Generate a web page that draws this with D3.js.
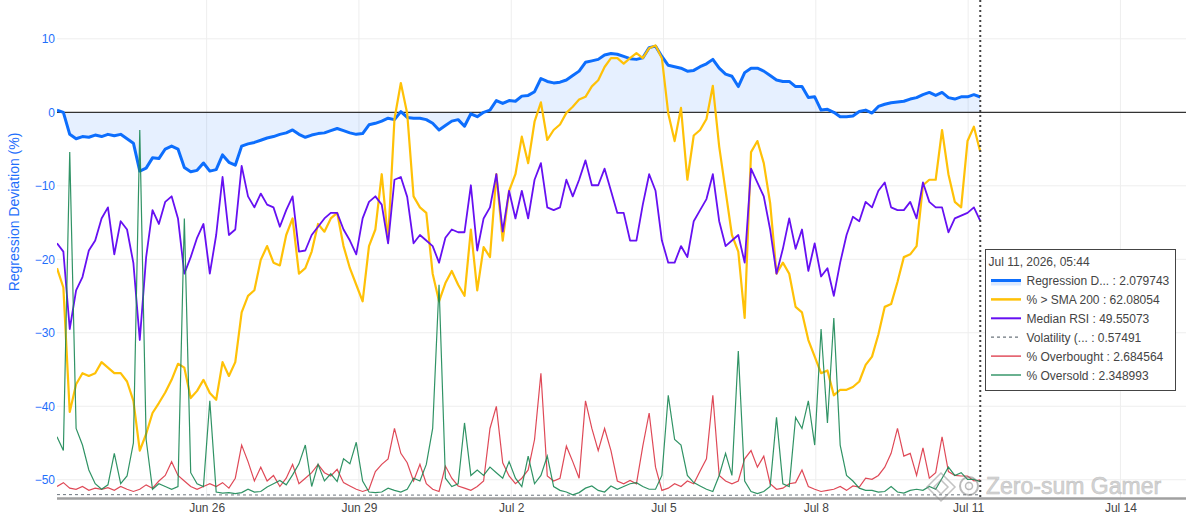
<!DOCTYPE html>
<html>
<head>
<meta charset="utf-8">
<script src="https://cdn.jsdelivr.net/npm/d3@7"></script>
<style>
  body { margin: 0; background: #fff; }
  svg { display: block; font-family: Arial, "Liberation Sans", sans-serif; }
</style>
</head>
<body>
<div id="chart"></div>
<script>
// values sampled every ~3h from Jun 23 01:15 to Jul 11 05:44 (2026)
const regression = [
  0.3, 0.0, -3.0, -3.6, -3.3, -3.4, -3.1, -3.3, -3.0, -3.2,
  -3.0, -3.6, -4.2, -8.0, -7.6, -6.2, -6.3, -5.0, -4.6, -5.0,
  -7.5, -8.1, -7.9, -6.9, -8.0, -7.8, -5.8, -6.8, -7.2, -4.6,
  -4.3, -4.1, -3.8, -3.5, -3.3, -3.0, -2.8, -2.4, -3.0, -3.4,
  -3.1, -2.9, -2.8, -2.5, -2.2, -2.5, -2.8, -3.0, -2.9, -1.7,
  -1.5, -1.2, -0.8, -1.0, 0.1, -0.7, -0.8, -0.8, -1.0, -1.5,
  -2.4, -1.8, -1.2, -1.0, -1.9, -0.2, -0.6, 0.0, 0.3, 1.6,
  1.2, 1.6, 1.5, 2.2, 2.3, 2.8, 4.6, 4.2, 4.0, 4.1,
  4.4, 5.0, 5.6, 6.8, 7.0, 7.2, 7.8, 8.0, 7.9, 7.6,
  7.3, 7.2, 7.4, 8.8, 9.0, 7.6, 6.4, 6.2, 6.0, 5.6,
  5.7, 6.2, 6.6, 7.2, 6.0, 5.2, 4.9, 3.5, 5.4, 6.0,
  6.0, 5.6, 5.0, 4.4, 4.2, 4.2, 3.5, 3.5, 2.0, 2.1,
  0.3, 0.4, 0.0, -0.6, -0.6, -0.5, 0.1, 0.3, -0.1, 0.8,
  1.1, 1.3, 1.4, 1.5, 1.8, 2.0, 2.4, 2.7, 2.3, 2.7,
  2.0, 1.8, 2.1, 2.1, 2.4, 2.079743
];
const pctAboveSma = [
  41, 37.5, 15, 20, 22, 21.5, 22, 24, 23, 22,
  22, 20.5, 17, 8, 11, 14.8, 16.6, 18.5, 20.8, 23.7,
  23, 17.5, 18.8, 20.8, 18.4, 17.2, 24, 21.5, 24, 33,
  36, 37, 42.5, 45, 42, 41.5, 47, 50, 40, 41,
  44, 49, 47.6, 50, 51, 45, 41, 38, 35, 45,
  48, 58, 46, 68, 74.5, 69, 54, 52, 51, 40,
  35, 38.3, 40.5, 38, 36, 48, 37, 44.8, 43, 58,
  46, 55, 58, 64.8, 60, 67.5, 71, 64.2, 66, 67,
  69.1, 70.2, 71.5, 72, 73.9, 75, 77.4, 79, 79, 78,
  79, 79.9, 79, 80.8, 81.3, 79, 69, 64, 70, 57,
  65, 66, 68, 74, 63, 55, 47, 44, 32, 62,
  64, 60, 52.8, 40, 42, 40, 34, 33, 28, 25,
  22, 22.5, 18, 19, 19, 19.5, 20.5, 23.5, 25, 29,
  34, 34.5, 38.5, 43, 43.5, 45, 56, 57, 57, 66,
  58, 53, 52, 64, 66.6, 62.08054
];
const medianRsi = [
  45.5, 44, 30, 37, 39.4, 44.2, 46, 50, 52, 43.5,
  49.5, 48, 41.9, 28, 43, 51.5, 49, 53, 54, 50,
  40, 43, 46.5, 49, 40, 47, 57.5, 47, 48, 59.5,
  54, 52, 54.5, 52.5, 52, 48.5, 51.5, 54, 44, 44.2,
  47, 48.5, 50, 51, 51, 48, 46, 43.5, 50, 53,
  54, 52.5, 45.5, 57, 57.5, 53.9, 45.5, 47, 46, 45,
  42, 46.5, 48, 47.5, 47.5, 56, 44.2, 50, 52, 58,
  47.6, 55, 50, 55, 50, 57, 60, 52, 51.5, 52,
  57, 54, 57, 60.5, 56, 56, 59, 55, 51, 51,
  46, 46, 52.5, 58, 55, 46, 42, 42, 45, 43,
  49.5, 51.5, 53.5, 58, 49.5, 45, 46, 47, 42, 59,
  56.5, 54, 48, 40, 44.5, 50, 44.5, 48, 40.5, 45.5,
  39.5, 41, 36, 42, 47, 50.3, 49.5, 53, 52, 55,
  56.5, 52, 51.5, 51.5, 53, 50, 56.5, 53, 52, 52,
  47.5, 50, 50.5, 51, 52, 49.55073
];
const overbought = [
  1.5, 2.2, 1.2, 1, 1.5, 0.8, 1.2, 1, 1.3, 0.8,
  1.5, 1, 0.6, 1, 1.8, 1.2, 2.5, 3.5, 6, 3.5,
  2.5, 1.5, 1, 1.5, 2, 1.5, 2.2, 1.2, 3, 9,
  6, 2.5, 5, 2.5, 3.5, 1.5, 3, 5.5, 2, 3,
  4, 5.5, 4, 3.4, 4.6, 2.2, 1.6, 1, 0.6, 1,
  4.2, 5.5, 6.5, 12, 7.5, 5.8, 2.5, 5.5, 2, 1,
  0.6, 5.2, 3, 1.6, 1.2, 0.8, 1.5, 2.5, 12, 16,
  5.8, 3.4, 2, 3, 4.5, 10, 22, 3.4, 2.5, 3,
  8.8, 6, 3, 17, 12, 8, 12, 8, 2.5, 2,
  2.6, 2, 8.8, 14.8, 5, 0.8, 1.2, 2, 1.5, 2.5,
  2, 4.3, 6.5, 18, 3.5, 2.5, 2, 2.5, 6.5, 8,
  5, 7, 2, 1, 1.2, 2, 2.2, 4.5, 1.5, 1,
  0.6, 0.8, 1, 1.5, 0.8, 1.6, 1.4, 3, 2.8, 3.5,
  5, 7.5, 12, 7, 7.5, 3.5, 8.5, 3, 4, 10.5,
  4.2, 3.5, 3.4, 3.4, 2.5, 2.684564
];
const oversold = [
  10.5, 8, 62, 12, 9, 4.5, 2, 1, 1.8, 7.5,
  2, 3.4, 9.4, 66, 10, 1, 2, 1.5, 1, 1.5,
  50, 4, 2, 1.5, 17, 0.5, 0.3, 0.4, 0.2, 0.4,
  1, 0.5, 0.6, 1.4, 2, 2.6, 1.8, 3.6, 5.6, 9,
  1.5, 5.5, 2.5, 3.8, 2.4, 6.5, 5.6, 9.5, 2.5, 0.5,
  0.4, 0.5, 1.2, 0.8, 0.5, 1, 3, 2.5, 5.5, 12,
  38, 3, 1.5, 2, 13, 3.5, 4.5, 3.5, 5, 4,
  3, 6, 3, 1.5, 7, 2, 3.5, 7, 1.5, 0.8,
  0.5, 0, 0.4, 1.2, 1.6, 0.8, 0.5, 1.6, 1, 1.5,
  2, 2.2, 1.5, 1, 1, 3.5, 18, 10, 9, 3.5,
  2.2, 1.6, 1, 0.6, 3.5, 7.5, 3.5, 26, 2.5, 0.6,
  0.2, 0.6, 1.5, 14, 2, 1.5, 14, 12, 17, 9,
  30, 13, 32, 9, 3.5, 2.5, 1.2, 0.8, 0.8, 0.5,
  0.6, 1.5, 0.5, 0.3, 0.8, 1, 0.8, 1.5, 1, 3,
  5, 3.5, 4, 2.8, 2.8, 2.348993
];
// coarser series, same time span
const volatility = [0.62, 0.6, 0.58, 0.55, 0.52, 0.5, 0.48, 0.5, 0.47, 0.45,
  0.48, 0.5, 0.46, 0.44, 0.5, 0.55, 0.52, 0.55, 0.57491];

const seriesNames = ['Regression D...', '% > SMA 200', 'Median RSI', 'Volatility (...', '% Overbought', '% Oversold'];
const seriesColors = ['#0d6efd', '#ffc107', '#6610f2', '#6c757d', '#dc3545', '#198754'];
const xTickDates = ['2026-06-26', '2026-06-29', '2026-07-02', '2026-07-05', '2026-07-08', '2026-07-11', '2026-07-14'];
const yTicks = [10, 0, -10, -20, -30, -40, -50];
const hoverTitle = 'Jul 11, 2026, 05:44';

const chartWidth = 1186, chartHeight = 518;
const pLeft = 57, pRight = 1186, pTop = 0, pBottom = 498.5;

const start = new Date(2026, 5, 23, 1, 15);
const end = new Date(2026, 6, 11, 5, 44);
const spread = (arr) => arr.map((v, i) => ({ t: new Date(+start + (end - start) * i / (arr.length - 1)), v }));

const x = d3.scaleTime()
  .domain([start, new Date(2026, 6, 15, 7, 0)])
  .range([pLeft, pRight]);
const y = d3.scaleLinear().domain([-52.55, 15.28]).range([pBottom, pTop]);
const y2 = d3.scaleLinear().domain([-0.67, 89.52]).range([pBottom, pTop]);
const y3 = d3.scaleLinear().domain([0, 20]).range([497, 420]);

const svg = d3.select('#chart').append('svg')
  .attr('width', chartWidth)
  .attr('height', chartHeight);

svg.append('defs').append('clipPath').attr('id', 'plot-clip')
  .append('rect')
  .attr('x', pLeft).attr('y', pTop)
  .attr('width', pRight - pLeft).attr('height', pBottom - pTop);

// grid
const tickDates = xTickDates.map(d => d3.timeParse('%Y-%m-%d')(d));
svg.append('g').selectAll('line')
  .data(tickDates)
  .join('line')
  .attr('x1', d => x(d)).attr('x2', d => x(d))
  .attr('y1', pTop).attr('y2', pBottom)
  .attr('stroke', '#eeeeee').attr('stroke-width', 1);

svg.append('g').selectAll('line')
  .data(yTicks.filter(d => d !== 0))
  .join('line')
  .attr('x1', pLeft).attr('x2', pRight)
  .attr('y1', d => y(d)).attr('y2', d => y(d))
  .attr('stroke', '#eeeeee').attr('stroke-width', 1);

// axes
const xAxis = svg.append('g')
  .attr('transform', `translate(0,${pBottom})`)
  .call(d3.axisBottom(x).tickValues(tickDates).tickFormat(d3.timeFormat('%b %-d')).tickSize(0).tickPadding(5));
xAxis.select('.domain').remove();
xAxis.selectAll('text').attr('fill', '#444').style('font-size', '12px');

const yAxis = svg.append('g')
  .attr('transform', `translate(${pLeft},0)`)
  .call(d3.axisLeft(y).tickValues(yTicks).tickSize(0).tickPadding(2));
yAxis.select('.domain').remove();
yAxis.selectAll('text').attr('fill', '#1f6ffb').style('font-size', '12px');

svg.append('text')
  .attr('transform', 'translate(19,212) rotate(-90)')
  .attr('text-anchor', 'middle')
  .attr('fill', '#1f6ffb')
  .style('font-size', '14px')
  .text('Regression Deviation (%)');

const plot = svg.append('g').attr('clip-path', 'url(#plot-clip)');

// regression deviation with fill to zero
const regData = spread(regression);
plot.append('path')
  .datum(regData)
  .attr('fill', 'rgba(13,110,253,0.1)')
  .attr('d', d3.area().x(d => x(d.t)).y0(y(0)).y1(d => y(d.v)));

plot.append('line')
  .attr('x1', pLeft).attr('x2', pRight)
  .attr('y1', y(0)).attr('y2', y(0))
  .attr('stroke', '#333').attr('stroke-width', 1.2);

const line = (scale) => d3.line().x(d => x(d.t)).y(d => scale(d.v));

plot.append('path').datum(regData)
  .attr('fill', 'none').attr('stroke', seriesColors[0]).attr('stroke-width', 3)
  .attr('stroke-linejoin', 'round')
  .attr('d', line(y));

plot.append('path').datum(spread(pctAboveSma))
  .attr('fill', 'none').attr('stroke', seriesColors[1]).attr('stroke-width', 2.2)
  .attr('stroke-linejoin', 'round')
  .attr('d', line(y2));

plot.append('path').datum(spread(medianRsi))
  .attr('fill', 'none').attr('stroke', seriesColors[2]).attr('stroke-width', 1.8)
  .attr('stroke-linejoin', 'round')
  .attr('d', line(y2));

plot.append('path').datum(spread(volatility))
  .attr('fill', 'none').attr('stroke', seriesColors[3]).attr('stroke-width', 1)
  .attr('stroke-dasharray', '3,3')
  .attr('d', line(y3));

plot.append('path').datum(spread(overbought))
  .attr('fill', 'none').attr('stroke', seriesColors[4]).attr('stroke-width', 1.2)
  .attr('stroke-opacity', 0.9)
  .attr('d', line(y2));

plot.append('path').datum(spread(oversold))
  .attr('fill', 'none').attr('stroke', seriesColors[5]).attr('stroke-width', 1.2)
  .attr('stroke-opacity', 0.9)
  .attr('d', line(y2));

// bottom axis line
svg.append('line')
  .attr('x1', pLeft).attr('x2', pRight)
  .attr('y1', pBottom).attr('y2', pBottom)
  .attr('stroke', '#a0a0a0').attr('stroke-width', 2.5);

// hover spike
svg.append('line')
  .attr('x1', x(end)).attr('x2', x(end))
  .attr('y1', pTop).attr('y2', pBottom)
  .attr('stroke', '#444').attr('stroke-width', 2)
  .attr('stroke-dasharray', '2,3');

// watermark
const wm = svg.append('g').attr('opacity', 0.5);
wm.append('path')
  .attr('d', 'M941,473 L955,487 L941,501 L927,487 Z M941,480 L948,487 L941,494 L934,487 Z')
  .attr('fill', 'none').attr('stroke', '#888').attr('stroke-width', 1.5);
wm.append('circle').attr('cx', 969).attr('cy', 486).attr('r', 9)
  .attr('fill', 'none').attr('stroke', '#777').attr('stroke-width', 2);
wm.append('circle').attr('cx', 969).attr('cy', 486).attr('r', 3.5)
  .attr('fill', 'none').attr('stroke', '#777').attr('stroke-width', 1.5);
wm.append('text')
  .attr('x', 986).attr('y', 494)
  .attr('fill', '#aaa').attr('stroke', '#888').attr('stroke-width', 0.6)
  .style('font-size', '23px')
  .text('Zero-sum Gamer');

// unified hover label
const lastValues = [regression, pctAboveSma, medianRsi, volatility, overbought, oversold]
  .map(arr => arr[arr.length - 1]);
const box = svg.append('g').attr('transform', 'translate(985.5,249.5)');
box.append('rect')
  .attr('width', 190).attr('height', 141)
  .attr('fill', 'rgba(255,255,255,0.96)')
  .attr('stroke', '#444').attr('stroke-width', 1);
box.append('text')
  .attr('x', 3).attr('y', 16)
  .attr('fill', '#444').style('font-size', '12px')
  .text(hoverTitle);

const rows = box.selectAll('.row')
  .data(seriesNames)
  .join('g')
  .attr('class', 'row')
  .attr('transform', (d, i) => `translate(0,${31 + i * 18.9})`);

rows.filter((d, i) => i === 0).append('rect')
  .attr('x', 5.5).attr('y', 0).attr('width', 30).attr('height', 5)
  .attr('fill', 'rgba(13,110,253,0.15)');
rows.append('line')
  .attr('x1', 5.5).attr('x2', 35.5).attr('y1', 0).attr('y2', 0)
  .attr('stroke', (d, i) => seriesColors[i])
  .attr('stroke-width', (d, i) => [3, 2.5, 2, 1.2, 1.3, 1.3][i])
  .attr('stroke-dasharray', (d, i) => i === 3 ? '3,3' : null);
rows.append('text')
  .attr('x', 41).attr('y', 4.5)
  .attr('fill', '#444').style('font-size', '12px')
  .text((d, i) => `${d} : ${lastValues[i]}`);
</script>
</body>
</html>
